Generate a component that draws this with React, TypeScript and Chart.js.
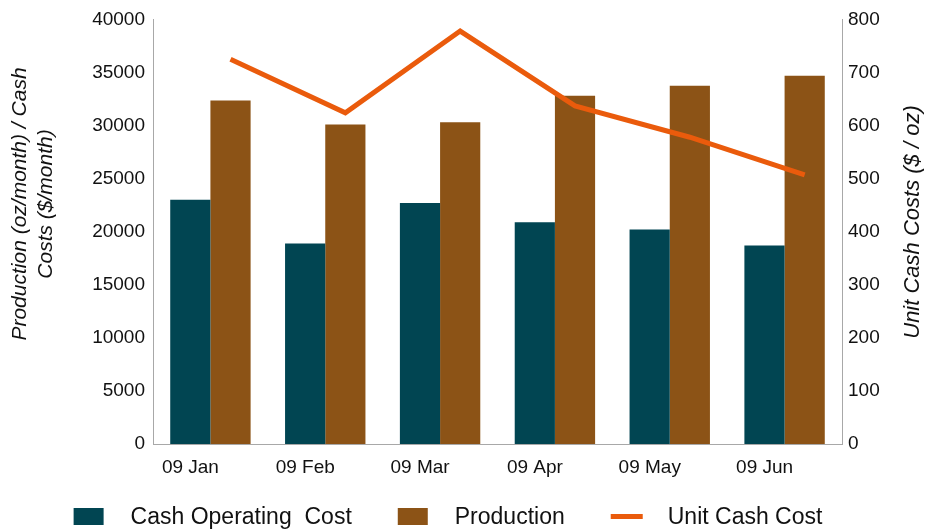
import React, { useEffect, useRef } from 'react';
import { Chart, registerables } from 'chart.js';

Chart.register(...registerables);

const months = ['09 Jan', '09 Feb', '09 Mar', '09 Apr', '09 May', '09 Jun'];
const cashOperatingCost = [23000, 18900, 22700, 20900, 20200, 18700];
const production = [32350, 30100, 30300, 32800, 33750, 34700];
const unitCashCost = [725, 624, 778, 637, 578, 507];

const leftTicksMax = 40000;
const leftTickStep = 5000;
const rightTicksMax = 800;
const rightTickStep = 100;

const leftTitle = ['Production (oz/month) / Cash', 'Costs ($/month)'];
const rightTitle = ['Unit Cash Costs ($ / oz)'];

const TEAL = '#014552';
const BROWN = '#8C5316';
const ORANGE = '#EA5B0C';
const AXIS = '#a8a8a8';
const TEXT = '#111111';
const FONT = '"Liberation Sans", Arial, sans-serif';

function drawRotatedTitle(
  ctx: CanvasRenderingContext2D,
  lines: string[],
  cx: number,
  cy: number,
  size: number,
  lineGap: number
) {
  ctx.save();
  ctx.font = `italic ${size}px ${FONT}`;
  ctx.fillStyle = TEXT;
  ctx.textAlign = 'center';
  ctx.textBaseline = 'middle';
  ctx.translate(cx, cy);
  ctx.rotate(-Math.PI / 2);
  lines.forEach((line, i) => ctx.fillText(line, 0, i * lineGap));
  ctx.restore();
}

export default function App() {
  const ref = useRef<HTMLCanvasElement>(null);

  useEffect(() => {
    if (!ref.current) return;

    const LINE_INDEX = 2;
    const PROD_INDEX = 1;

    // Place the line's vertices over the centres of the Production bars
    const lineShiftPlugin = {
      id: 'lineShift',
      beforeDatasetDraw(chart: any, args: any) {
        if (args.index !== LINE_INDEX) return;
        const ctx = chart.ctx as CanvasRenderingContext2D;
        const prodMeta = chart.getDatasetMeta(PROD_INDEX);
        const xScale = chart.scales.x;
        let dx = 0;
        if (prodMeta && prodMeta.data.length) {
          dx = prodMeta.data[0].x - xScale.getPixelForValue(0);
        }
        ctx.save();
        ctx.translate(dx, 0);
      },
      afterDatasetDraw(chart: any, args: any) {
        if (args.index !== LINE_INDEX) return;
        chart.ctx.restore();
      },
    };

    const legendPlugin = {
      id: 'customLegend',
      afterDraw(chart: any) {
        const ctx = chart.ctx as CanvasRenderingContext2D;
        ctx.save();
        ctx.font = `23px ${FONT}`;
        ctx.textBaseline = 'middle';
        ctx.textAlign = 'left';
        const items = chart.data.datasets.map((ds: any) => ({
          text: ds.label as string,
          color: (ds.type === 'line' ? ds.borderColor : ds.backgroundColor) as string,
          isLine: ds.type === 'line',
        }));
        const boxW = 30;
        const boxH = 17;
        const gapText = 27;
        const gapItem = 46;
        const widths = items.map((it: any) => ctx.measureText(it.text).width);
        const total =
          items.reduce((s: number, _it: any, i: number) => s + boxW + gapText + widths[i], 0) +
          gapItem * (items.length - 1);
        let x = 448 - total / 2;
        const cy = 516.5;
        items.forEach((it: any, i: number) => {
          ctx.fillStyle = it.color;
          if (it.isLine) {
            ctx.fillRect(x, cy - 2.5, boxW + 2, 5);
          } else {
            ctx.fillRect(x, cy - boxH / 2, boxW, boxH);
          }
          x += boxW + gapText;
          ctx.fillStyle = TEXT;
          ctx.fillText(it.text, x, cy + 1);
          x += widths[i] + gapItem;
        });
        ctx.restore();
      },
    };

    const titlesPlugin = {
      id: 'axisTitles',
      afterDraw(chart: any) {
        const ctx = chart.ctx as CanvasRenderingContext2D;
        drawRotatedTitle(ctx, leftTitle, 20, 204, 21, 26);
        drawRotatedTitle(ctx, rightTitle, 913, 222, 22, 26);
      },
    };

    const plainTick = (v: any) => String(v);

    const chart = new Chart(ref.current, {
      type: 'bar',
      data: {
        labels: months,
        datasets: [
          {
            type: 'bar',
            label: 'Cash Operating  Cost',
            data: cashOperatingCost,
            backgroundColor: TEAL,
            yAxisID: 'y',
            xAxisID: 'x',
            categoryPercentage: 0.7,
            barPercentage: 1.0,
            order: 2,
          },
          {
            type: 'bar',
            label: 'Production',
            data: production,
            backgroundColor: BROWN,
            yAxisID: 'y',
            xAxisID: 'x',
            categoryPercentage: 0.7,
            barPercentage: 1.0,
            order: 2,
          },
          {
            type: 'line',
            label: 'Unit Cash Cost',
            data: unitCashCost,
            borderColor: ORANGE,
            backgroundColor: ORANGE,
            borderWidth: 5,
            pointRadius: 0,
            tension: 0,
            borderCapStyle: 'butt',
            borderJoinStyle: 'miter',
            yAxisID: 'y1',
            xAxisID: 'x',
            order: 1,
            clip: false,
          } as any,
        ],
      },
      options: {
        responsive: false,
        animation: false,
        layout: { padding: { top: 16, left: 0, right: 0, bottom: 0 } },
        plugins: {
          legend: { display: false },
          tooltip: { enabled: false },
          title: { display: false },
        },
        scales: {
          x: {
            type: 'category',
            offset: true,
            grid: { display: false, drawTicks: false },
            border: { display: true, color: AXIS, width: 1 },
            ticks: {
              color: TEXT,
              font: { family: FONT, size: 19 },
              padding: 12,
              labelOffset: -20,
              maxRotation: 0,
              autoSkip: false,
            },
            afterFit: (scale: any) => {
              scale.height = 87;
            },
          },
          y: {
            type: 'linear',
            position: 'left',
            min: 0,
            max: leftTicksMax,
            grid: { display: false, drawTicks: false },
            border: { display: true, color: AXIS, width: 1 },
            ticks: {
              stepSize: leftTickStep,
              color: TEXT,
              font: { family: FONT, size: 19 },
              padding: 8,
              callback: plainTick,
            },
            afterFit: (scale: any) => {
              scale.width = 153;
            },
          },
          y1: {
            type: 'linear',
            position: 'right',
            min: 0,
            max: rightTicksMax,
            grid: { display: false, drawTicks: false },
            border: { display: true, color: AXIS, width: 1 },
            ticks: {
              stepSize: rightTickStep,
              color: TEXT,
              font: { family: FONT, size: 19 },
              padding: 6,
              callback: plainTick,
            },
            afterFit: (scale: any) => {
              scale.width = 83;
            },
          },
        },
      },
      plugins: [lineShiftPlugin, legendPlugin, titlesPlugin],
    });

    return () => chart.destroy();
  }, []);

  return (
    <div style={{ position: 'absolute', left: 0, top: 0, width: 925, height: 531, background: '#fff' }}>
      <canvas ref={ref} width={925} height={531} />
    </div>
  );
}
